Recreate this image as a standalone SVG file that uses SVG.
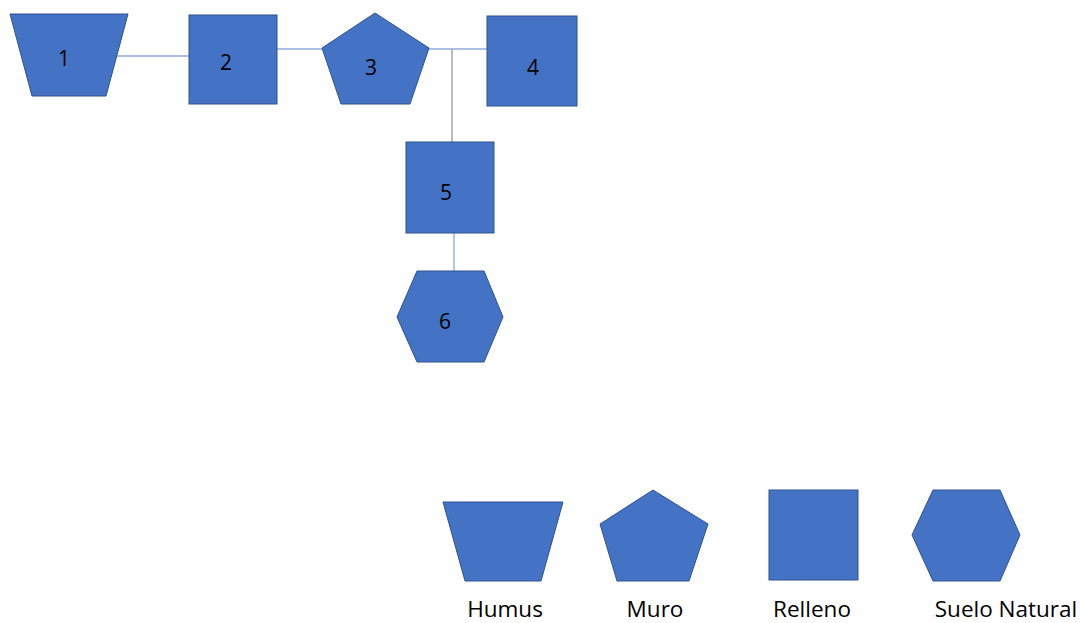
<svg xmlns="http://www.w3.org/2000/svg" width="1081" height="623" viewBox="0 0 1081 623">
<style>
.s{fill:#4472C4;stroke:#2F528F;stroke-width:1}
.n{font-family:"Open Sans","Liberation Sans",sans-serif;font-size:21px;fill:#000;text-anchor:middle}
.l{font-family:"Open Sans","Liberation Sans",sans-serif;font-size:22.5px;fill:#000;text-anchor:middle}
.c{stroke:#8FAADC;stroke-width:1.3;fill:none}
.g{stroke:#A5A5A5;stroke-width:1.5;fill:none}
</style>
<rect width="1081" height="623" fill="#fff"/>
<g id="connectors">
<line class="c" x1="116" y1="56" x2="189" y2="56"/>
<line class="c" x1="277" y1="49" x2="322" y2="49"/>
<line class="c" x1="429" y1="49" x2="487" y2="49"/>
<line class="g" x1="452" y1="49" x2="452" y2="142"/>
<line class="c" x1="454" y1="233" x2="454" y2="271"/>
</g>
<g id="node1"><polygon class="s" points="10,14 128,14 106,96 32,96"/><text class="n" x="64" y="66">1</text></g>
<g id="node2"><rect class="s" x="189" y="15" width="88" height="89"/><text class="n" x="226" y="70">2</text></g>
<g id="node3"><polygon class="s" points="375,13 429,48 410,104 341,104 322,48"/><text class="n" x="371" y="75">3</text></g>
<g id="node4"><rect class="s" x="487" y="16" width="90" height="90"/><text class="n" x="533" y="75">4</text></g>
<g id="node5"><rect class="s" x="406" y="142" width="88" height="91"/><text class="n" x="446" y="200">5</text></g>
<g id="node6"><polygon class="s" points="417,271 484,271 503,317 484,362 417,362 397,317"/><text class="n" x="445" y="329">6</text></g>
<g id="legend-humus"><polygon class="s" points="443,502 563,502 541,581 465,581"/><text class="l" x="505" y="617">Humus</text></g>
<g id="legend-muro"><polygon class="s" points="653,490 708,524 689,581 617,581 600,524"/><text class="l" x="655" y="617">Muro</text></g>
<g id="legend-relleno"><rect class="s" x="769" y="490" width="89" height="90"/><text class="l" x="812" y="617">Relleno</text></g>
<g id="legend-suelo"><polygon class="s" points="933,490 1000,490 1020,535 1000,581 933,581 912,535"/><text class="l" x="1006" y="617">Suelo Natural</text></g>
</svg>
